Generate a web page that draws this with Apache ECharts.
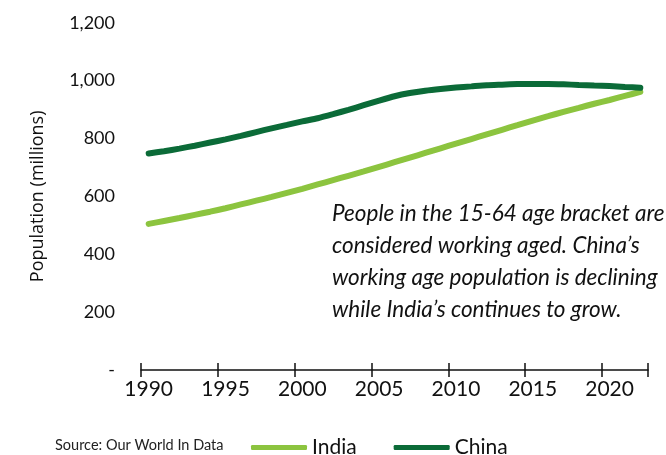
<!DOCTYPE html>
<html>
<head>
<meta charset="utf-8">
<script src="https://cdn.jsdelivr.net/npm/echarts@6/dist/echarts.min.js"></script>
<style>
  html, body { margin: 0; padding: 0; background: #fff; }
  #chart { width: 666px; height: 455px; }
</style>
</head>
<body>
<div id="chart"></div>
<script>
// Working-age (15-64) population, millions
const years = [
  '1990', '1991', '1992', '1993', '1994', '1995', '1996', '1997', '1998', '1999',
  '2000', '2001', '2002', '2003', '2004', '2005', '2006', '2007', '2008', '2009',
  '2010', '2011', '2012', '2013', '2014', '2015', '2016', '2017', '2018', '2019',
  '2020', '2021', '2022'
];
const india = [
  505, 515, 525, 536, 547, 559, 572, 585, 598, 612,
  626, 641, 656, 671, 686, 702, 718, 734, 750, 766,
  782, 798, 814, 830, 846, 862, 877, 892, 906, 920,
  933, 947, 961
];
const china = [
  748, 756, 765, 775, 786, 797, 809, 822, 835, 847,
  859, 870, 884, 899, 915, 931, 946, 957, 965, 971,
  976, 980, 984, 986, 988, 988, 988, 987, 985, 983,
  981, 978, 975
];
const seriesNames = ['India', 'China'];
const yTicks = [0, 200, 400, 600, 800, 1000, 1200];
const note = [
  'People in the 15-64 age bracket are',
  'considered working aged. China\u2019s',
  'working age population is declining',
  'while India\u2019s continues to grow.'
];
const sourceText = 'Source: Our World In Data';

const FONT = 'Lato, "Open Sans", sans-serif';
const chart = echarts.init(document.getElementById('chart'));

// shared category axis settings (labels and ticks every five years)
const baseX = {
  type: 'category',
  data: years,
  boundaryGap: true,
  splitLine: { show: false }
};

chart.setOption({
  animation: false,
  backgroundColor: '#ffffff',
  title: {
    text: sourceText,
    left: 55,
    top: 438,
    padding: 0,
    textStyle: { fontFamily: FONT, fontSize: 14.5, fontWeight: 'normal', color: '#222' }
  },
  legend: {
    left: 251,
    top: 437,
    padding: 0,
    itemWidth: 56,
    itemHeight: 5,
    itemGap: 37,
    icon: 'roundRect',
    textStyle: { fontFamily: FONT, fontSize: 21, color: '#111' },
    data: seriesNames
  },
  grid: { left: 141, right: 18, top: 22.7, bottom: 85, containLabel: false },
  xAxis: [
    Object.assign({}, baseX, {
      axisLine: { show: true, onZero: false, lineStyle: { color: '#111', width: 1.5 } },
      axisTick: { show: true, inside: false, interval: 4, length: 7, lineStyle: { color: '#111', width: 1.5 } },
      axisLabel: { interval: 4, fontFamily: FONT, fontSize: 21, color: '#111', margin: 9 }
    }),
    Object.assign({}, baseX, {
      position: 'bottom',
      axisLine: { show: false, onZero: false },
      axisTick: { show: true, inside: true, interval: 4, length: 7, lineStyle: { color: '#111', width: 1.5 } },
      axisLabel: { show: false }
    })
  ],
  yAxis: {
    type: 'value',
    min: 0,
    max: 1200,
    interval: 200,
    name: 'Population (millions)',
    nameLocation: 'middle',
    nameGap: 94,
    nameTextStyle: { fontFamily: '"Open Sans", sans-serif', fontSize: 18, color: '#111' },
    splitLine: { show: false },
    axisLine: { show: false },
    axisTick: { show: false },
    axisLabel: {
      fontFamily: FONT, fontSize: 18, color: '#111', margin: 26,
      formatter: (v) => yTicks.includes(v) ? (v === 0 ? '-' : v.toLocaleString('en-US')) : ''
    }
  },
  series: [
    {
      name: 'India',
      type: 'line',
      xAxisIndex: 0,
      data: india,
      showSymbol: false,
      smooth: 0.2,
      lineStyle: { color: '#8cc43f', width: 6, cap: 'round' },
      itemStyle: { color: '#8cc43f' }
    },
    {
      name: 'China',
      type: 'line',
      xAxisIndex: 0,
      data: china,
      showSymbol: false,
      smooth: 0.2,
      lineStyle: { color: '#0b6b38', width: 6, cap: 'round' },
      itemStyle: { color: '#0b6b38' }
    }
  ],
  graphic: [
    {
      type: 'text',
      left: 332,
      top: 198,
      style: {
        text: note.join('\n'),
        fontFamily: FONT,
        fontSize: 22.5,
        fontStyle: 'italic',
        lineHeight: 32,
        fill: '#111'
      }
    }
  ]
});
</script>
</body>
</html>
